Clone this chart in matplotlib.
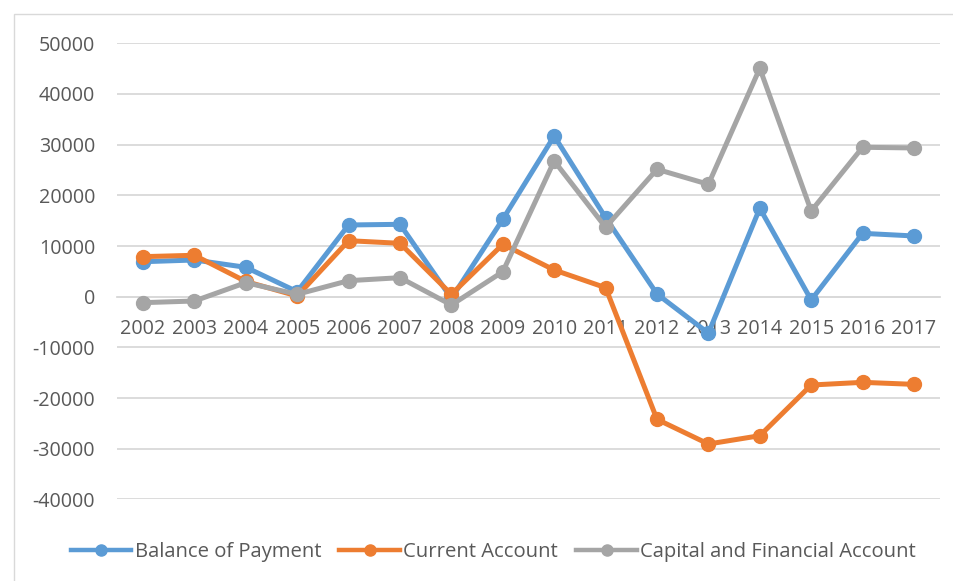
import matplotlib
matplotlib.use("Agg")
import matplotlib.pyplot as plt
from matplotlib.patches import Rectangle
from matplotlib.lines import Line2D

years = ["2002", "2003", "2004", "2005", "2006", "2007", "2008", "2009",
         "2010", "2011", "2012", "2013", "2014", "2015", "2016", "2017"]
balance_of_payment = [6900, 7240, 5800, 990, 14150, 14280, -330, 15280,
                      31700, 15600, 530, -7200, 17450, -650, 12500, 11980]
current_account = [7900, 8170, 3000, 140, 11050, 10530, 470, 10330,
                   5270, 1780, -24200, -29070, -27430, -17430, -16900, -17300]
capital_financial = [-1180, -850, 2770, 470, 3160, 3750, -1640, 4930,
                     26780, 13700, 25140, 22180, 45070, 16910, 29480, 29350]
y_ticks = [-40000, -30000, -20000, -10000, 0, 10000, 20000, 30000, 40000, 50000]

series = [
    ("Balance of Payment", balance_of_payment, "#5B9BD5"),
    ("Current Account", current_account, "#ED7D31"),
    ("Capital and Financial Account", capital_financial, "#A5A5A5"),
]

plt.rcParams['font.family'] = ['Open Sans', 'DejaVu Sans']
text_color = "#595959"
grid_color = "#D9D9D9"
fs = 14.2

fig = plt.figure(figsize=(9.54, 5.81), dpi=100)
fig.patch.set_facecolor("white")
# chart-area border (partially cropped in reference)
fig.add_artist(Rectangle((14 / 954, -0.1), 1.2, (581 - 14) / 581 + 0.1,
                         transform=fig.transFigure, fill=False,
                         edgecolor="#D9D9D9", linewidth=1.0))

ax = fig.add_axes([117.3 / 954, (581 - 499.4) / 581, 822.4 / 954, (499.4 - 43.3) / 581])
x = list(range(len(years)))
for name, vals, col in series:
    ax.plot(x, vals, color=col, linewidth=3.6, marker='o', markersize=10,
            label=name, solid_joinstyle='round', solid_capstyle='round')

ax.set_xlim(-0.5, len(years) - 0.5)
ax.set_ylim(-40000, 50000)
ax.set_yticks(y_ticks)
ax.set_yticklabels([str(v) for v in y_ticks])
ax.set_xticks(x)
ax.set_xticklabels(years)
ax.grid(axis='y', color=grid_color, linewidth=1.3)
ax.set_axisbelow(True)
for s in ['top', 'right', 'left']:
    ax.spines[s].set_visible(False)
ax.spines['bottom'].set_position(('data', 0))
ax.spines['bottom'].set_color(grid_color)
ax.spines['bottom'].set_linewidth(1.3)
ax.spines['bottom'].set_zorder(0.5)
ax.tick_params(axis='both', length=0, colors=text_color, labelsize=fs)
ax.tick_params(axis='y', pad=16)
ax.tick_params(axis='x', pad=16)

handles = [Line2D([], [], color=col, linewidth=3.2, marker='o', markersize=8)
           for _, _, col in series]
labels = [name for name, _, _ in series]
fig.legend(handles, labels, loc='center', bbox_to_anchor=(0.517, 0.05), ncol=3,
           frameon=False, fontsize=14.6, labelcolor=text_color, handlelength=3.0,
           handletextpad=0.15, columnspacing=0.9)

fig.savefig("out.png", dpi=100)
